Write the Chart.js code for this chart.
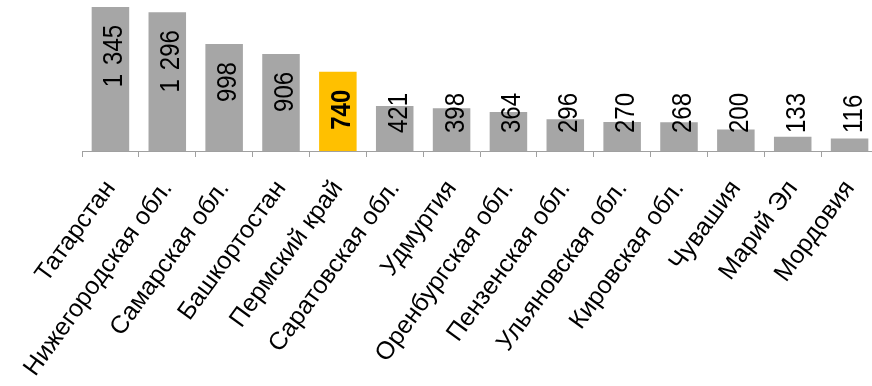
<!DOCTYPE html>
<html>
<head>
<meta charset="utf-8">
<script src="https://cdn.jsdelivr.net/npm/chart.js@4/dist/chart.umd.min.js"></script>
<style>
  html, body { margin: 0; padding: 0; background: #ffffff; overflow: hidden; }
  .wrap { position: relative; width: 880px; height: 386px; }
</style>
</head>
<body>
<div class="wrap"><canvas id="c"></canvas></div>
<script>
// данные
const regions = [
    'Татарстан', 'Нижегородская обл.', 'Самарская обл.', 'Башкортостан',
    'Пермский край', 'Саратовская обл.', 'Удмуртия', 'Оренбургская обл.',
    'Пензенская обл.', 'Ульяновская обл.', 'Кировская обл.', 'Чувашия',
    'Марий Эл', 'Мордовия'
];
const values = [1345, 1296, 998, 906, 740, 421, 398, 364, 296, 270, 268, 200, 133, 116];
const highlightRegion = 'Пермский край';

const GRAY = '#a6a6a6';
const YELLOW = '#ffc000';
const FONT = "'Liberation Sans', Arial, sans-serif";
const THOUSAND_GAP = 9; // ширина разделителя тысяч, px

// Подписи значений внутри столбцов (повернуты на 90°)
const valueLabels = {
    id: 'valueLabels',
    afterDatasetsDraw(chart) {
        const ctx = chart.ctx;
        const meta = chart.getDatasetMeta(0);
        meta.data.forEach((bar, i) => {
            const bold = regions[i] === highlightRegion;
            const v = values[i];
            const parts = v >= 1000 ? [String(Math.floor(v / 1000)), String(v % 1000).padStart(3, '0')] : [String(v)];
            ctx.save();
            ctx.font = (bold ? 'bold ' : '') + '24px ' + FONT;
            const widths = parts.map(p => ctx.measureText(p).width);
            const w = widths.reduce((a, b) => a + b, 0) + (parts.length - 1) * THOUSAND_GAP;
            const yEnd = Math.min(bar.y + 18, bar.base - 18 - w);
            ctx.translate(bar.x, yEnd);
            ctx.rotate(-Math.PI / 2);
            ctx.scale(1, 1.14);
            ctx.fillStyle = '#000';
            ctx.textAlign = 'left';
            ctx.textBaseline = 'alphabetic';
            let x = -w;
            parts.forEach((p, k) => {
                ctx.fillText(p, x, 10.5);
                x += widths[k] + THOUSAND_GAP;
            });
            ctx.restore();
        });
    }
};

new Chart(document.getElementById('c'), {
    type: 'bar',
    data: {
        labels: regions,
        datasets: [{
            data: values,
            backgroundColor: regions.map(r => r === highlightRegion ? YELLOW : GRAY),
            borderWidth: 0,
            barPercentage: 0.66,
            categoryPercentage: 1
        }]
    },
    options: {
        responsive: true,
        maintainAspectRatio: false,
        animation: false,
        layout: { padding: { left: 82, right: 2, top: 1, bottom: 0 } },
        plugins: { legend: { display: false }, tooltip: { enabled: false } },
        scales: {
            y: {
                display: false,
                min: 0,
                max: 1400
            },
            x: {
                afterFit(scale) {
                    scale.height = 235;
                    scale.paddingLeft = 0;
                    scale.paddingRight = 0;
                },
                border: { display: true, color: '#a0a0a0', width: 1 },
                grid: {
                    display: true,
                    offset: true,
                    drawOnChartArea: false,
                    drawTicks: true,
                    tickLength: 6,
                    color: '#a0a0a0'
                },
                ticks: {
                    autoSkip: false,
                    minRotation: 54,
                    maxRotation: 54,
                    padding: 18,
                    color: '#000',
                    font: { family: FONT, size: 25 }
                }
            }
        }
    },
    plugins: [valueLabels]
});
</script>
</body>
</html>
